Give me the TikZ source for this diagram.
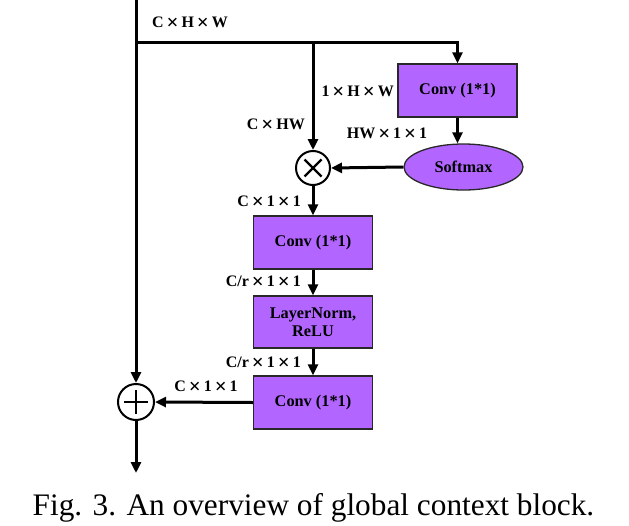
\documentclass[tikz,border=0pt]{standalone}
\usepackage{fontspec}
\setmainfont{Liberation Serif}
\usetikzlibrary{arrows.meta,shapes.geometric}
\definecolor{boxpurple}{RGB}{178,102,255}
\definecolor{boxedge}{RGB}{40,40,40}
\newcommand\tmx{\makebox[1.12em]{\fontsize{21}{21}\selectfont\raisebox{-2.3pt}{×}}}
\tikzset{
  block/.style={draw=boxedge,line width=1.3pt,fill=boxpurple,minimum width=119pt,minimum height=53pt,inner sep=0pt,font=\fontsize{16.3}{18.5}\selectfont\bfseries,align=center},
  softbox/.style={ellipse,draw=boxedge,line width=1.3pt,fill=boxpurple,minimum width=119pt,minimum height=46pt,inner sep=0pt,font=\fontsize{16.3}{18}\selectfont\bfseries},
  opcirc/.style={circle,draw=black,line width=2pt,minimum size=#1,inner sep=0pt},
  flow/.style={line width=3pt,-{Triangle[length=11pt,width=10pt]}},
  plain/.style={line width=3pt},
  dimlabel/.style={font=\fontsize{16}{18}\selectfont\bfseries,inner sep=0pt},
  caption/.style={font=\fontsize{31.3}{36}\selectfont,inner sep=0pt,anchor=base}
}
\begin{document}
\begin{tikzpicture}[x=1pt,y=-1pt]
\useasboundingbox (0,0) rectangle (629,525);
% nodes
\node[block] (conv1) at (457.5,90.5) {Conv (1*1)};
\node[softbox] (soft) at (463.5,167) {Softmax};
\node[opcirc=34pt] (mul) at (313,168) {};
\draw[line width=2.2pt] ([shift={(-8.5,-8.5)}]mul.center) -- ([shift={(8.5,8.5)}]mul.center)
  ([shift={(-8.5,8.5)}]mul.center) -- ([shift={(8.5,-8.5)}]mul.center);
\node[block] (conv2) at (313,242.5) {Conv (1*1)};
\node[block,minimum height=52pt] (ln) at (313,322) {LayerNorm,\\[-1pt]ReLU};
\node[block] (conv3) at (313,402.5) {Conv (1*1)};
\node[opcirc=36pt] (add) at (136,402) {};
\draw[line width=2.2pt] ([xshift=-12pt]add.center) -- ([xshift=12pt]add.center)
  ([yshift=-12pt]add.center) -- ([yshift=12pt]add.center);
\coordinate (top) at (136,0);
\coordinate (split) at (136,42);
\coordinate (branch) at (313,42);
\coordinate (out) at (136,473);
% connectors
\draw[plain] (top) -- (split);
\draw[flow] (split) -- (add.north);
\draw[flow] (split) -| (conv1.north);
\draw[flow] (branch) -- (mul.north);
\draw[flow] (conv1.south) -- (conv1.south |- soft.north);
\draw[flow] (soft.west) -- (mul.east);
\draw[flow] (mul.south) -- (conv2.north);
\draw[flow] (conv2.south) -- (ln.north);
\draw[flow] (ln.south) -- (conv3.north);
\draw[flow] (conv3.west) -- (add.east);
\draw[flow] (add.south) -- (out);
% labels
\node[dimlabel] (l1) at (190,23) {C\tmx H\tmx W};
\node[dimlabel,anchor=east] (l2) at (394,92) {1\tmx H\tmx W};
\node[dimlabel,anchor=east] (l3) at (305,125) {C\tmx HW};
\node[dimlabel] (l4) at (387,134) {HW\tmx 1\tmx 1};
\node[dimlabel,anchor=east] (l5) at (301,202) {C\tmx 1\tmx 1};
\node[dimlabel,anchor=east] (l6) at (301,282) {C/r\tmx 1\tmx 1};
\node[dimlabel,anchor=east] (l7) at (301,363) {C/r\tmx 1\tmx 1};
\node[dimlabel] (l8) at (206,387) {C\tmx 1\tmx 1};
\node[caption] (cap) at (313.5,515) {Fig. 3. An overview of global context block.};
\end{tikzpicture}
\end{document}
